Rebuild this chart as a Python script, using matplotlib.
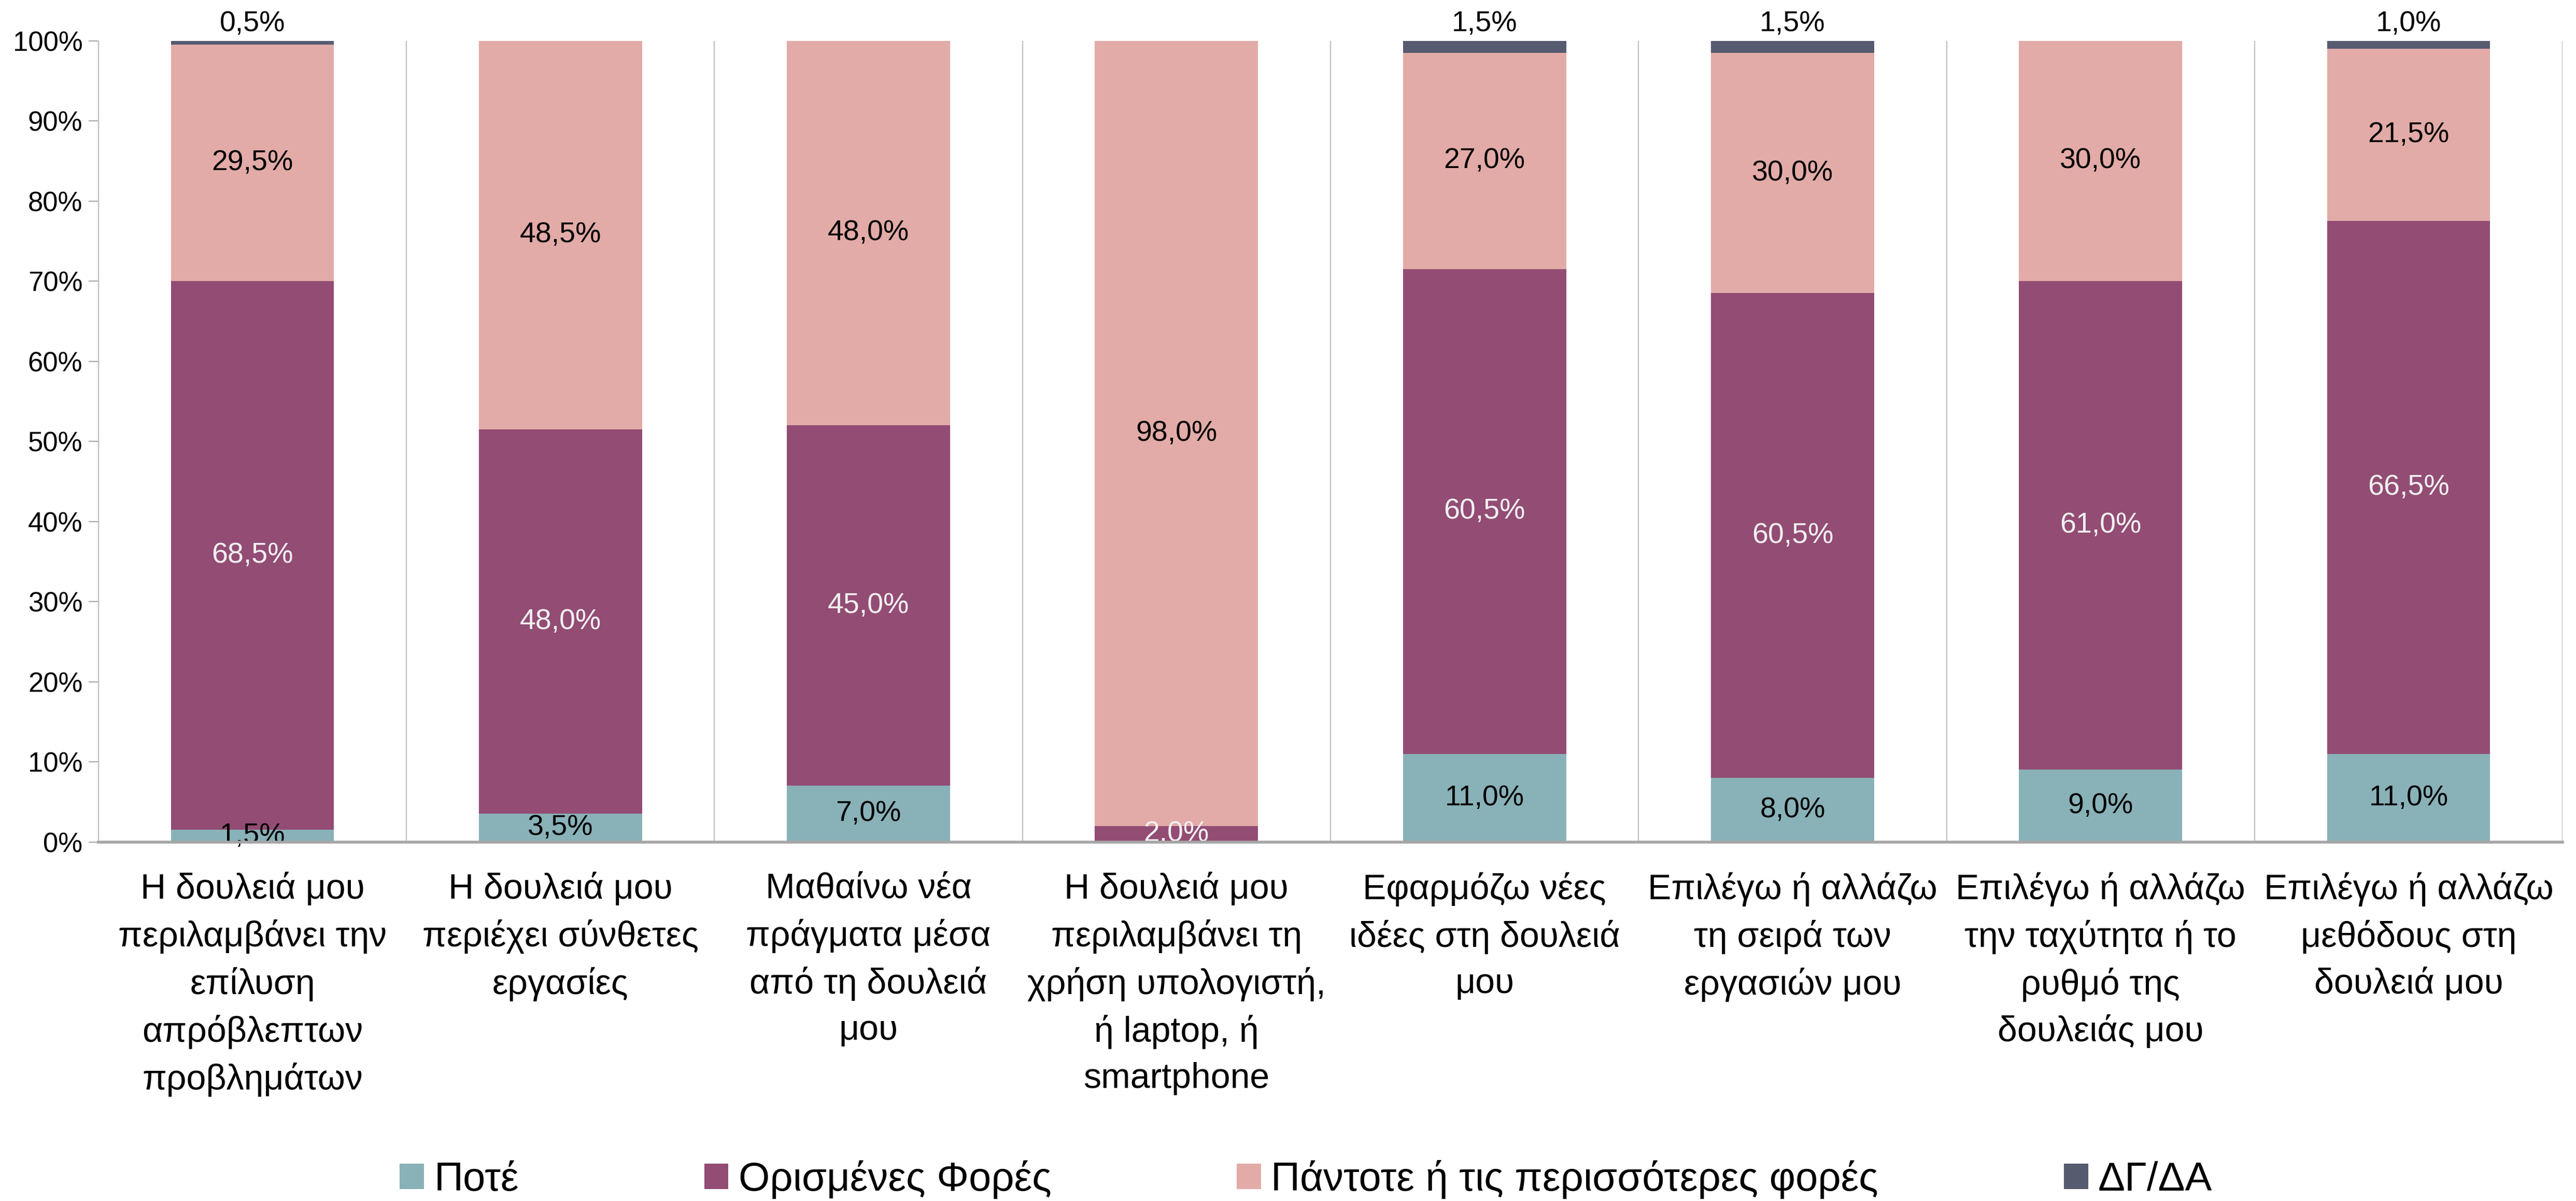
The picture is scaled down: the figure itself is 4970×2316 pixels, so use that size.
"""
Stacked 100% bar chart of how often workers report each job characteristic.
"""

import matplotlib

matplotlib.use("Agg")
import matplotlib.pyplot as plt
import numpy as np
from matplotlib.ticker import PercentFormatter

plt.rcParams["font.family"] = ["Liberation Sans", "DejaVu Sans"]

categories = [
    "Η δουλειά μου\nπεριλαμβάνει την\nεπίλυση\nαπρόβλεπτων\nπροβλημάτων",
    "Η δουλειά μου\nπεριέχει σύνθετες\nεργασίες",
    "Μαθαίνω νέα\nπράγματα μέσα\nαπό τη δουλειά\nμου",
    "Η δουλειά μου\nπεριλαμβάνει τη\nχρήση υπολογιστή,\nή laptop, ή\nsmartphone",
    "Εφαρμόζω νέες\nιδέες στη δουλειά\nμου",
    "Επιλέγω ή αλλάζω\nτη σειρά των\nεργασιών μου",
    "Επιλέγω ή αλλάζω\nτην ταχύτητα ή το\nρυθμό της\nδουλειάς μου",
    "Επιλέγω ή αλλάζω\nμεθόδους στη\nδουλειά μου",
]

series_names = ["Ποτέ", "Ορισμένες Φορές", "Πάντοτε ή τις περισσότερες φορές", "ΔΓ/ΔΑ"]
never = [1.5, 3.5, 7.0, 0.0, 11.0, 8.0, 9.0, 11.0]
sometimes = [68.5, 48.0, 45.0, 2.0, 60.5, 60.5, 61.0, 66.5]
always = [29.5, 48.5, 48.0, 98.0, 27.0, 30.0, 30.0, 21.5]
dk_na = [0.5, 0.0, 0.0, 0.0, 1.5, 1.5, 0.0, 1.0]

colors = ["#89B1B8", "#934C74", "#E2ABA7", "#565B70"]
label_colors = ["black", "#F0F0F0", "black", "black"]

fig = plt.figure(figsize=(49.70, 23.16), dpi=100)
ax = fig.add_axes([0.0382, 0.299, 0.9566, 0.667])

x = np.arange(len(categories))
width = 0.53
bottom = np.zeros(len(categories))

for name, values, color, lcolor, idx in zip(
    series_names, [never, sometimes, always, dk_na], colors, label_colors, range(4)
):
    values = np.array(values)
    ax.bar(x, values, width, bottom=bottom, color=color, label=name, zorder=3)
    for xi, b, v in zip(x, bottom, values):
        if v <= 0:
            continue
        text = f"{v:.1f}%".replace(".", ",")
        if idx == 3:
            # the small "don't know" share sits above the bar
            ax.annotate(text, (xi, b + v), xytext=(0, 5), textcoords="offset points",
                        ha="center", va="bottom", fontsize=40, color=lcolor)
        else:
            ax.text(xi, b + v / 2, text, ha="center", va="center",
                    fontsize=40, color=lcolor, zorder=4)
    bottom += values

# vertical separators between categories
for b in np.arange(-0.5, len(categories), 1.0):
    ax.axvline(b, color="#BFBFBF", lw=1.6, zorder=1)

ax.set_xlim(-0.5, len(categories) - 0.5)
ax.set_ylim(0, 100)
ax.set_yticks(np.arange(0, 101, 10))
ax.yaxis.set_major_formatter(PercentFormatter(decimals=0))
ax.set_xticks(x)
ax.set_xticklabels(categories, fontsize=49, linespacing=1.5)

ax.tick_params(axis="y", labelsize=38, length=14, width=1.5, color="#A6A6A6", pad=8)
ax.tick_params(axis="x", length=0, pad=42)

for side in ["top", "right"]:
    ax.spines[side].set_visible(False)
ax.spines["left"].set_color("#BFBFBF")
ax.spines["left"].set_linewidth(1.6)
ax.spines["bottom"].set_color("#A6A6A6")
ax.spines["bottom"].set_linewidth(4)
ax.spines["bottom"].set_zorder(5)

fig.legend(
    loc="center",
    bbox_to_anchor=(0.507, 0.018),
    ncol=4,
    frameon=False,
    fontsize=56,
    handlelength=0.6,
    handleheight=0.6,
    handletextpad=0.25,
    columnspacing=4.6,
)

fig.savefig("out.png", dpi=100)
